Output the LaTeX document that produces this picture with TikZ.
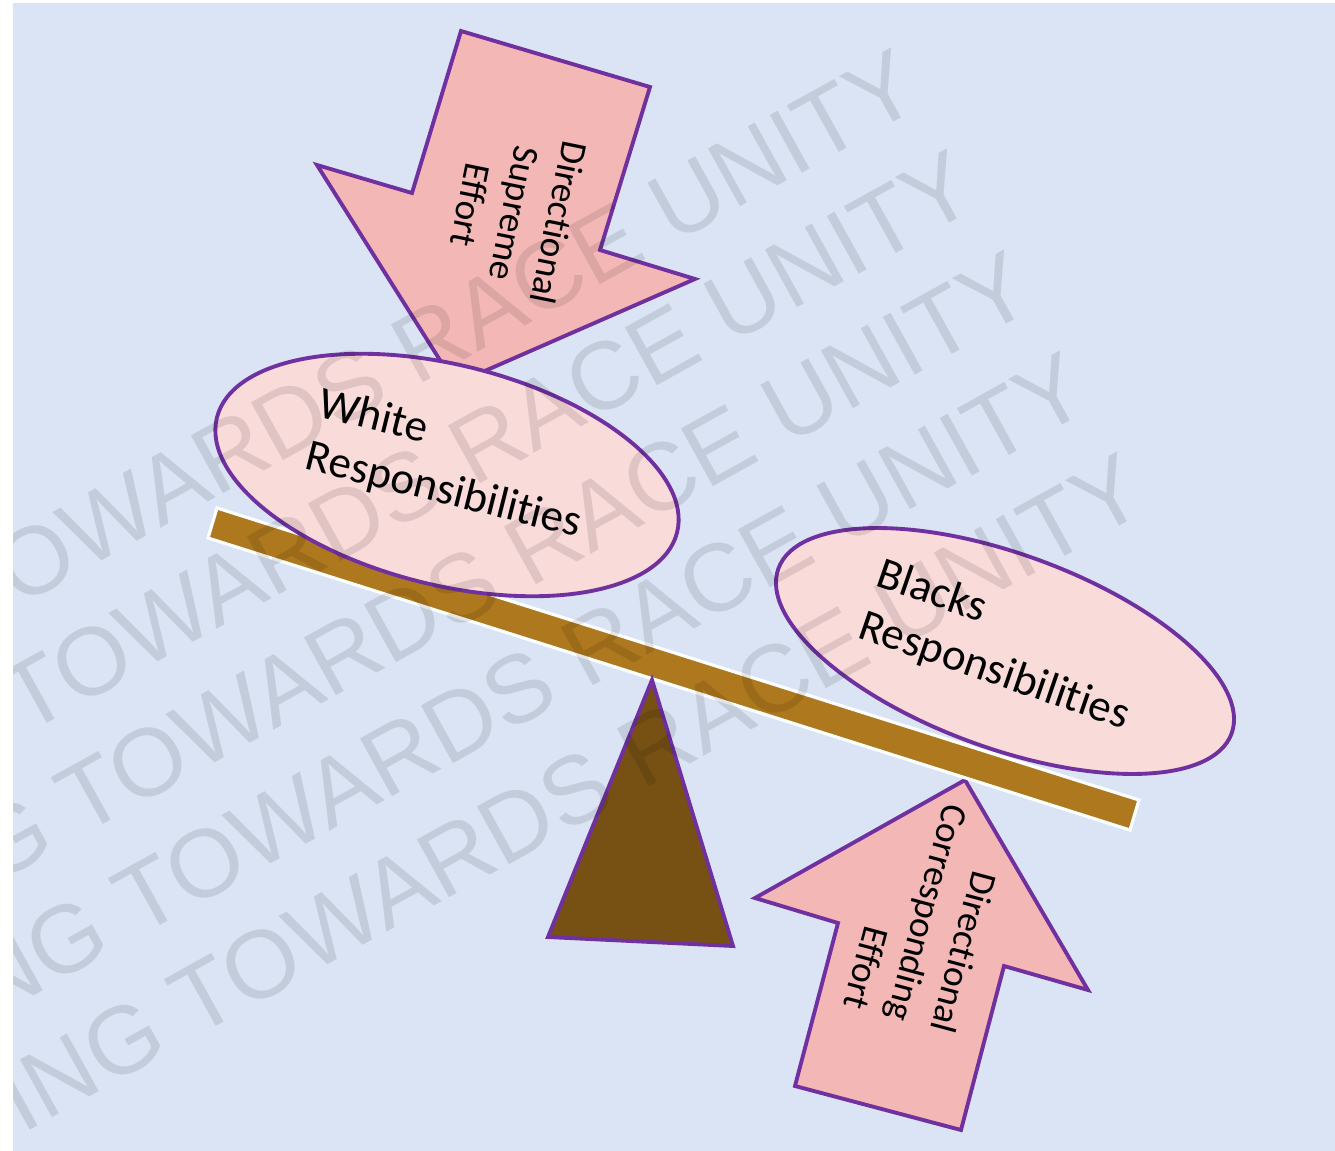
\documentclass[tikz,border=0pt]{standalone}
\usepackage{fontspec}
\setmainfont[Ligatures={NoCommon,NoContextual}]{Carlito}
\newfontfamily\wmfont{Liberation Sans}
\usetikzlibrary{shapes.geometric}
\definecolor{bgblue}{RGB}{218,228,244}
\definecolor{outline}{RGB}{112,48,160}
\definecolor{arrowpink}{RGB}{243,184,181}
\definecolor{bubblepink}{RGB}{249,219,218}
\definecolor{plankbrown}{RGB}{174,120,30}
\definecolor{fulcrumbrown}{RGB}{118,81,19}

\begin{document}
\begin{tikzpicture}[x=0.01cm,y=-0.01cm,
    effort/.style={draw=outline,line width=1.1pt,fill=arrowpink},
    bubble/.style={ellipse,draw=outline,line width=1.1pt,fill=bubblepink,inner sep=0pt},
    bubbletext/.style={font=\fontsize{12.8}{15.5}\selectfont,align=left,inner sep=0pt},
    efforttext/.style={font=\fontsize{10.6}{12.8}\selectfont,inner sep=0pt},
    wmtext/.style={font=\wmfont\fontsize{27.3}{30}\selectfont,text=black,text opacity=0.1,
      rotate=29,anchor=north east,inner sep=0pt}]
    \useasboundingbox (0,0) rectangle (1335,1151);
    \fill[white] (0,0) rectangle (1335,1151);
    \fill[bgblue] (13,3) rectangle (1335,1151);
    % the two efforts
    \draw[effort] (461,31) -- (650,87) -- (600,250) -- (695,279) -- (455,384) -- (317,165) -- (412,193) -- cycle;
    \draw[effort] (965,780) -- (1088,990) -- (1004,966) -- (961,1130) -- (795,1086) -- (838,923) -- (755,898) -- cycle;
    % seesaw
    \draw[fill=plankbrown,draw=white,line width=0.9pt] (217,508) -- (1139,800) -- (1130,830) -- (208,538) -- cycle;
    \draw[fill=fulcrumbrown,draw=outline,line width=1.1pt] (652,680) -- (733,946) -- (548,937) -- cycle;
    % responsibilities
    \node[bubble,minimum width=4.74cm,minimum height=2.2cm,rotate=-14] (white) at (447,475) {};
    \node[bubble,minimum width=4.82cm,minimum height=1.94cm,rotate=-20] (blacks) at (1005,651) {};
    \node[bubbletext,rotate=-14] (whitetext) at (450,465) {White\\Responsibilities};
    \node[bubbletext,rotate=-19] (blackstext) at (1003,646) {Blacks\\Responsibilities};
    \node[efforttext,align=center,rotate=-101.5] (supreme) at (515,214) {Directional\\Supreme\\Effort};
    \node[efforttext,align=right,rotate=-105] (corresp) at (928,913) {Directional\\Corresponding\\Effort};
    % watermark
    \begin{scope}
      \clip (13,3) rectangle (1335,1151);
      \foreach \i in {0,...,4}
        \node[wmtext] (wm\i) at ({893+56.5*\i},{45+101*\i}) {ING TOWARDS RACE UNITY};
    \end{scope}
\end{tikzpicture}
\end{document}
